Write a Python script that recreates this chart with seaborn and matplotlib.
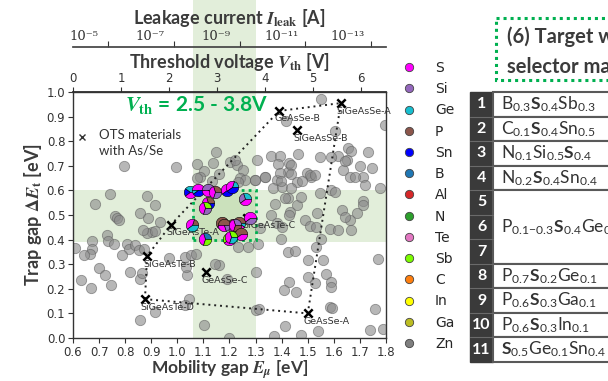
import numpy as np
import matplotlib
matplotlib.use("Agg")
import matplotlib.pyplot as plt
import matplotlib.transforms as mtransforms
from matplotlib.patches import Rectangle
from matplotlib.lines import Line2D
from matplotlib.ticker import FixedLocator, FuncFormatter, FormatStrFormatter
import seaborn as sns

# ---------------------------------------------------------------- data
# candidate materials (mobility gap E_mu, trap gap dE_t) in eV
gray_em = [0.794, 0.996, 1.148, 1.075, 1.103, 1.086, 1.133, 1.159, 1.138, 1.202, 1.230, 1.220,
           1.304, 1.361, 1.253, 1.240, 1.259, 1.298, 1.336, 1.381, 1.425, 1.429, 1.368, 1.400,
           1.496, 1.514, 1.617, 1.655, 1.665, 1.649, 1.732, 1.700, 1.636, 1.745, 1.547, 1.662,
           1.713, 1.552, 1.795, 1.418, 1.603, 1.463, 1.392, 1.590, 1.641, 1.386, 1.437, 1.392,
           1.437, 1.507, 1.529, 1.335, 1.458, 1.477, 1.398, 1.297, 1.233, 1.680, 1.718, 1.437,
           1.590, 1.777, 1.077,
           0.743, 0.884, 0.685, 0.916, 0.762, 0.857, 0.886, 0.934, 0.767, 0.775, 0.903, 0.884,
           0.916, 0.868, 0.730, 0.735, 0.673, 1.424, 1.373, 1.712, 1.604, 1.630, 1.662, 1.687,
           1.713, 1.457, 1.476, 1.413, 1.432, 1.489, 1.361, 1.381, 1.400, 1.317, 1.534, 1.430,
           1.641, 1.507, 1.533, 1.584, 1.616, 1.667, 1.398, 1.552, 1.547,
           0.756, 0.608, 0.673, 0.666, 0.641, 0.807, 0.813, 0.836, 0.852, 0.871, 0.788, 0.698,
           0.724, 0.747, 0.632, 0.669, 0.820, 0.858, 0.865, 0.967, 1.031, 1.054, 1.072, 1.037,
           1.034, 1.159, 1.190, 1.046, 1.030, 0.916, 0.856, 1.101, 1.197, 1.233, 1.271, 1.309,
           1.424, 1.450, 1.501, 1.558, 1.768, 1.303, 1.430, 1.501, 1.529, 1.571, 1.588, 1.590,
           1.409, 1.454, 1.303, 1.315, 1.584, 1.592, 1.757, 1.412, 1.475, 1.540, 1.737, 1.789,
           1.144, 1.371, 1.533]
gray_dE = [0.698, 0.695, 0.755, 0.707, 0.680, 0.653, 0.637, 0.667, 0.713, 0.717, 0.703, 0.725,
           0.724, 0.740, 0.683, 0.649, 0.642, 0.642, 0.656, 0.642, 0.676, 0.710, 0.609, 0.615,
           0.670, 0.656, 0.740, 0.771, 0.762, 0.724, 0.757, 0.699, 0.683, 0.690, 0.737, 0.656,
           0.656, 0.973, 0.867, 0.881, 0.840, 0.748, 0.739, 0.734, 0.718, 0.707, 0.705, 0.671,
           0.667, 0.661, 0.661, 0.653, 0.634, 0.640, 0.637, 0.644, 0.634, 0.653, 0.623, 0.610,
           0.603, 0.609, 0.649,
           0.585, 0.578, 0.545, 0.542, 0.497, 0.507, 0.487, 0.473, 0.487, 0.478, 0.431, 0.427,
           0.434, 0.440, 0.417, 0.395, 0.393, 0.569, 0.545, 0.556, 0.595, 0.520, 0.480, 0.507,
           0.541, 0.541, 0.574, 0.568, 0.513, 0.480, 0.500, 0.466, 0.450, 0.448, 0.507, 0.499,
           0.492, 0.455, 0.451, 0.444, 0.438, 0.438, 0.404, 0.404, 0.588,
           0.383, 0.366, 0.363, 0.343, 0.339, 0.383, 0.363, 0.377, 0.356, 0.363, 0.339, 0.285,
           0.255, 0.217, 0.235, 0.203, 0.268, 0.241, 0.264, 0.325, 0.329, 0.336, 0.343, 0.255,
           0.289, 0.295, 0.241, 0.157, 0.134, 0.106, 0.072, 0.052, 0.002, 0.370, 0.370, 0.383,
           0.350, 0.352, 0.316, 0.316, 0.322, 0.268, 0.228, 0.248, 0.225, 0.261, 0.228, 0.207,
           0.194, 0.187, 0.113, 0.118, 0.126, 0.122, 0.119, 0.048, 0.011, 0.027, 0.031, 0.038,
           0.300, 0.008, 0.370]

# reference OTS materials containing As/Se
ots_names = ["GeAsSe-A", "GeAsSe-B", "GeAsSe-C", "SiGeAsSe-A", "SiGeAsSe-B",
             "SiGeAsTe-A", "SiGeAsTe-B", "SiGeAsTe-C", "SiGeAsTe-D"]
ots_em = [1.500, 1.390, 1.110, 1.627, 1.459, 0.975, 0.884, 1.267, 0.876]
ots_dE = [0.100, 0.923, 0.268, 0.955, 0.845, 0.460, 0.333, 0.488, 0.158]
ots_outline = ["SiGeAsTe-D", "SiGeAsTe-B", "SiGeAsTe-A", "GeAsSe-B",
               "SiGeAsSe-A", "GeAsSe-A", "SiGeAsTe-D"]

elements = ["S", "Si", "Ge", "P", "Sn", "B", "Al", "N", "Te", "Sb", "C", "In", "Ga", "Zn"]
element_colors = ["#ff00ff", "#9467bd", "#17becf", "#8c564b", "#0000ff", "#1f77b4", "#d62728",
                  "#2ca02c", "#e377c2", "#7cfc00", "#ff7f0e", "#ffff00", "#bcbd22", "#7f7f7f"]

# selected compositions shown as pies
pie_em = [1.049, 1.080, 1.119, 1.144, 1.192, 1.208, 1.259, 1.119, 1.106, 1.279,
          1.170, 1.214, 1.236, 1.056, 1.178, 1.107, 1.197, 1.220, 1.245, 1.207]
pie_dE = [0.595, 0.602, 0.602, 0.595, 0.602, 0.613, 0.564, 0.547, 0.527, 0.487,
          0.466, 0.459, 0.468, 0.458, 0.458, 0.404, 0.404, 0.458, 0.424, 0.411]
pie_comp = [
    {"Ge": 0.4, "Sn": 0.2, "S": 0.4}, {"S": 0.5, "Ge": 0.1, "Sn": 0.4},
    {"Si": 0.5, "S": 0.4, "N": 0.1}, {"P": 0.3, "S": 0.4, "Si": 0.3},
    {"N": 0.2, "S": 0.4, "Sn": 0.4}, {"Ge": 0.2, "S": 0.4, "Sn": 0.4},
    {"Ge": 0.3, "Si": 0.3, "S": 0.4}, {"P": 0.3, "S": 0.4, "Sn": 0.3},
    {"Sb": 0.3, "S": 0.4, "Si": 0.3}, {"S": 0.6, "Si": 0.4},
    {"P": 0.6, "S": 0.3, "Ga": 0.1}, {"P": 0.6, "S": 0.3, "In": 0.1},
    {"P": 0.7, "S": 0.2, "Ge": 0.1}, {"P": 0.2, "S": 0.4, "Ge": 0.4},
    {"P": 0.5, "S": 0.3, "Si": 0.2}, {"B": 0.3, "S": 0.4, "Sb": 0.3},
    {"Sn": 0.3, "Sb": 0.3, "S": 0.4}, {"Si": 0.3, "S": 0.4, "P": 0.3},
    {"P": 0.6, "S": 0.4}, {"Sb": 0.3, "S": 0.4, "Ge": 0.3},
]

em_window = [1.06, 1.30]      # eV, equals V_th 2.5 - 3.8 V
trap_window = [0.39, 0.60]    # eV
target_box = [1.06, 1.30, 0.40, 0.60]

vth_ticks = [0, 1, 2, 3, 4, 5, 6]
leak_exponents = [-5, -7, -9, -11, -13]
leak_minor = [-6, -8, -10, -12, -14]

table_numbers = ["1", "2", "3", "4", "5", "6", "7", "8", "9", "10", "11"]
table_formulas = [
    [("B", "0.3"), ("S", "0.4"), ("Sb", "0.3")],
    [("C", "0.1"), ("S", "0.4"), ("Sn", "0.5")],
    [("N", "0.1"), ("Si", "0.5"), ("S", "0.4")],
    [("N", "0.2"), ("S", "0.4"), ("Sn", "0.4")],
    [("P", "0.1-0.3"), ("S", "0.4"), ("Ge", "0.4-0.6")],
    [("P", "0.7"), ("S", "0.2"), ("Ge", "0.1")],
    [("P", "0.6"), ("S", "0.3"), ("Ga", "0.1")],
    [("P", "0.6"), ("S", "0.3"), ("In", "0.1")],
    [("S", "0.5"), ("Ge", "0.1"), ("Sn", "0.4")],
]
table_spans = [1, 1, 1, 1, 3, 1, 1, 1, 1]


# ---------------------------------------------------------------- scales
def em_to_vth(em):
    return (np.asarray(em, dtype=float) - 0.6) / 0.184


def vth_to_em(v):
    return np.asarray(v, dtype=float) * 0.184 + 0.6


def em_to_logI(em):
    return -4.935 - 7.934 * (np.asarray(em, dtype=float) - 0.6)


def logI_to_em(lg):
    return 0.6 + (-4.935 - np.asarray(lg, dtype=float)) / 7.934


SUP = str.maketrans("-0123456789", "\u207b\u2070\u00b9\u00b2\u00b3\u2074\u2075\u2076\u2077\u2078\u2079")


def formula_tex(parts):
    out = []
    for sym, sub in parts:
        base = r"\mathbf{%s}" % sym if sym == "S" else r"\mathsf{%s}" % sym
        out.append(base + r"_{\mathsf{%s}}" % sub.replace("-", "{-}"))
    return "$" + "".join(out) + "$"


def wedge(start, stop, n=40):
    t = np.linspace(2 * np.pi * start, 2 * np.pi * stop, n)
    return np.column_stack([np.r_[0, np.cos(t), 0], np.r_[0, np.sin(t), 0]])


# ---------------------------------------------------------------- style
sns.set_theme(style="ticks")
plt.rcParams.update({
    "font.family": ["DejaVu Sans"],
    "mathtext.fontset": "custom",
    "mathtext.rm": "STIXGeneral:bold",
    "mathtext.it": "STIXGeneral:italic:bold",
    "mathtext.bf": "Lato:bold",
    "mathtext.sf": "Lato",
    "figure.facecolor": "white",
})

W, H = 608, 381
fig = plt.figure(figsize=(W / 100, H / 100), dpi=100)
layout = mtransforms.Affine2D().scale(1 / W, -1 / H).translate(0, 1) + fig.transFigure

ax = fig.add_axes([73 / W, 1 - 338 / H, 313 / W, 246 / H])
ax.set_facecolor("white")

GREEN_FILL = "#70ad47"
GREEN = "#00b050"
DARK = "#3b3b3b"

ax.axvspan(*em_window, color=GREEN_FILL, alpha=0.2, lw=0, zorder=0)
ax.axhspan(*trap_window, color=GREEN_FILL, alpha=0.2, lw=0, zorder=0)
blend = mtransforms.blended_transform_factory(ax.transData, ax.transAxes)
ax.add_patch(Rectangle((em_window[0], 1.0), em_window[1] - em_window[0], 0.5,
                       transform=blend, facecolor=GREEN_FILL, alpha=0.2, lw=0,
                       clip_on=False, zorder=0))

sns.scatterplot(x=gray_em, y=gray_dE, ax=ax, s=55, color="#8c8c8c", alpha=0.62,
                edgecolor="#5f5f5f", linewidth=0.6, zorder=2, legend=False)

idx = [ots_names.index(n) for n in ots_outline]
ax.plot([ots_em[i] for i in idx], [ots_dE[i] for i in idx], ls=(0, (1, 2)),
        color="#222222", lw=1.4, zorder=3)
ax.add_patch(Rectangle((target_box[0], target_box[2]), target_box[1] - target_box[0],
                       target_box[3] - target_box[2], fill=False, ec=GREEN, lw=2.0,
                       ls=(0, (1, 1.5)), zorder=3))
ax.scatter(ots_em, ots_dE, marker="x", s=36, color="black", linewidths=1.8, zorder=4)
for name, x, y in zip(ots_names, ots_em, ots_dE):
    ax.annotate(name, (x, y), xytext=(-3, -2.5), textcoords="offset points",
                ha="left", va="top", fontsize=6.8, color="#333333", zorder=4)

color_of = dict(zip(elements, element_colors))
for x, y, comp in zip(pie_em, pie_dE, pie_comp):
    start = 0.0
    for el, frac in comp.items():
        xy = wedge(start, start + frac)
        scale = np.abs(xy).max()
        ax.scatter([x], [y], marker=xy, s=80 * scale ** 2, facecolor=color_of[el],
                   edgecolor="black", linewidths=0.4, zorder=6)
        start += frac

ax.text(0.80, 0.947, r"$V_\mathrm{th}$ = 2.5 - 3.8V", color=GREEN, fontsize=15,
        fontweight="bold", family="Lato", va="center", ha="left", zorder=5)

ax.plot([0.029], [0.817], marker="x", ms=5, mew=1.0, color="#333333",
        transform=ax.transAxes, ls="none")
ax.text(0.083, 0.848, "OTS materials\nwith As/Se", transform=ax.transAxes, fontsize=9.5,
        family="Lato", color="#333333", va="top", ha="left", linespacing=1.35)

ax.set_xlim(0.6, 1.8)
ax.set_ylim(0.0, 1.0)
ax.set_xticks(np.round(np.arange(0.6, 1.801, 0.1), 1))
ax.set_yticks(np.round(np.arange(0.0, 1.001, 0.1), 1))
ax.xaxis.set_major_formatter(FormatStrFormatter("%.1f"))
ax.yaxis.set_major_formatter(FormatStrFormatter("%.1f"))
ax.tick_params(labelsize=8.5, colors="#333333", length=3.5, width=0.8, pad=2)
for sp in ax.spines.values():
    sp.set_color("#333333")
    sp.set_linewidth(1.0)

ax.set_xlabel(r"Mobility gap $E_\mu$ [eV]", fontsize=12.5, fontweight="bold",
              family="Lato", color=DARK)
ax.xaxis.set_label_coords(0.5, (338 - 358) / 246)
ax.set_ylabel(r"Trap gap $\Delta E_\mathrm{t}$ [eV]", fontsize=13, fontweight="bold",
              family="Lato", color=DARK)
ax.yaxis.set_label_coords((44 - 73) / 313, 0.5)

sec_v = ax.secondary_xaxis("top", functions=(em_to_vth, vth_to_em))
sec_v.set_xticks(vth_ticks)
sec_v.tick_params(labelsize=8.5, colors="#333333", length=3.5, width=0.8, pad=1.5)
sec_v.set_xlabel(r"Threshold voltage $V_\mathrm{th}$ [V]", fontsize=13, fontweight="bold",
                 family="Lato", color=DARK, labelpad=3)

sec_i = ax.secondary_xaxis(1 + 45 / 246, functions=(em_to_logI, logI_to_em))
sec_i.xaxis.set_major_locator(FixedLocator(leak_exponents))
sec_i.xaxis.set_minor_locator(FixedLocator(leak_minor))
sec_i.xaxis.set_major_formatter(FuncFormatter(lambda v, p: "10" + str(int(round(v))).translate(SUP)))
sec_i.tick_params(which="major", length=0, labelsize=9.5, colors="#333333", pad=3)
sec_i.tick_params(which="minor", length=4, width=0.8, colors="#333333")
for lbl in sec_i.get_xticklabels():
    lbl.set_family("DejaVu Serif")
sec_i.spines["top"].set_color("#444444")
sec_i.set_xlabel(r"Leakage current $I_\mathrm{leak}$ [A]", fontsize=13, fontweight="bold",
                 family="Lato", color=DARK, labelpad=4)

# element colour key
handles = [Line2D([], [], ls="none", marker="o", ms=6, mfc=c, mec="#444444", mew=0.6)
           for c in element_colors]
fig.legend(handles, elements, loc="upper left", bbox_to_anchor=(402 / W, 1 - 61 / H),
           frameon=False, fontsize=10, labelspacing=0.52, handlelength=1.0,
           handletextpad=1.37, borderpad=0, borderaxespad=0)

# candidate table
row_h = 270 / 11
x0, y0, num_w = 470, 92, 23
fig.patches.append(Rectangle((x0, y0), num_w, 270, transform=layout, fc="#3a3a3a",
                             ec="#3a3a3a", lw=1))
for i, num in enumerate(table_numbers):
    yc = y0 + (i + 0.5) * row_h
    fig.text(x0 + num_w / 2, yc, num, transform=layout, ha="center", va="center",
             color="white", fontsize=11.5, fontweight="bold", family="Lato")
    if i:
        fig.lines.append(Line2D([x0, x0 + num_w], [y0 + i * row_h] * 2, transform=layout,
                                color="#6a6a6a", lw=0.8))
row = 0
for parts, span in zip(table_formulas, table_spans):
    top = y0 + row * row_h
    fig.patches.append(Rectangle((x0 + num_w, top), 300, span * row_h, transform=layout,
                                 fc="white", ec="#595959", lw=1.5))
    fig.text(x0 + num_w + 8, top + span * row_h / 2, formula_tex(parts), transform=layout,
             ha="left", va="center", fontsize=12.5, color="#333333", family="Lato")
    row += span

fig.patches.append(Rectangle((496, 18), 320, 62, transform=layout, fill=False, ec=GREEN,
                             lw=2.2, ls=(0, (1, 1.3))))
fig.text(507, 37, "(6) Target window of", transform=layout, ha="left", va="center",
         fontsize=14.5, fontweight="bold", family="Lato", color=DARK)
fig.text(507, 67, "selector materials", transform=layout, ha="left", va="center",
         fontsize=14.5, fontweight="bold", family="Lato", color=DARK)

fig.canvas.draw()
shift = mtransforms.ScaledTranslation(9 / 100, 0, fig.dpi_scale_trans)
for tick in sec_i.xaxis.get_major_ticks():
    tick.label2.set_transform(tick.label2.get_transform() + shift)

fig.savefig("out.png", dpi=100)
